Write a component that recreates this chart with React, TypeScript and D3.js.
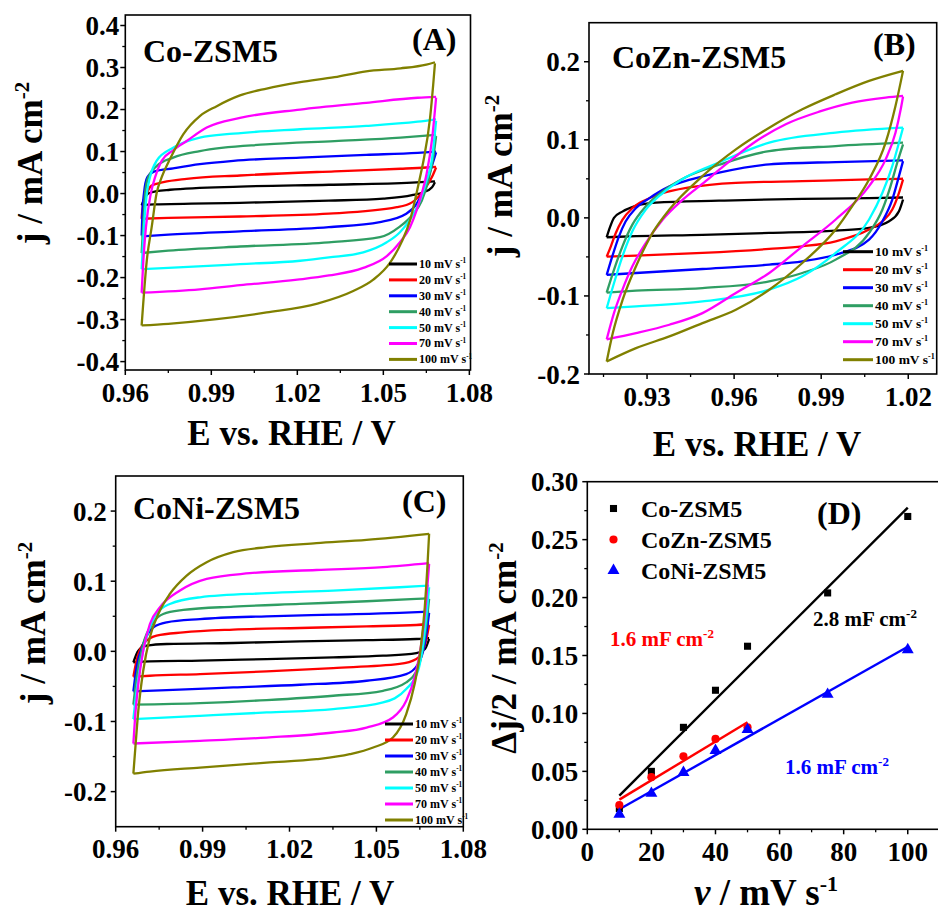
import React from 'react';
import * as d3 from 'd3';

const FONT = "'Liberation Serif', 'Times New Roman', Times, serif";

const scanRates = ['10', '20', '30', '40', '50', '70', '100'];
const cvColors = ['#000000', '#ff0000', '#0000ff', '#2f9e63', '#00ffff', '#ff00ff', '#808000'];

// ---------- Panel A : Co-ZSM5  [E / V, j / mA cm-2]  (anodic = upper, cathodic = lower) ----------
const coUpper: number[][][] = [
  [[0.9657, -0.028], [0.9669, -0.009], [0.968, 0.0], [0.9709, 0.0055], [0.9756, 0.009], [1.0, 0.0166], [1.031, 0.021], [1.06, 0.026], [1.068, 0.029]],
  [[0.9657, -0.06], [0.966, -0.035], [0.9675, 0.0], [0.9692, 0.019], [0.9733, 0.027], [0.9814, 0.035], [1.0, 0.043], [1.033, 0.053], [1.056, 0.059], [1.065, 0.062], [1.0684, 0.0635]],
  [[0.9657, -0.1], [0.966, -0.04], [0.9665, 0.0], [0.9677, 0.039], [0.97, 0.052], [0.9767, 0.06], [0.986, 0.07], [0.9977, 0.078], [1.021, 0.0855], [1.044, 0.092], [1.062, 0.097], [1.0684, 0.1]],
  [[0.9657, -0.1415], [0.9662, -0.08], [0.9669, 0.0], [0.968, 0.039], [0.971, 0.066], [0.9767, 0.0855], [0.986, 0.101], [1.009, 0.117], [1.033, 0.125], [1.056, 0.133], [1.066, 0.1385], [1.0684, 0.14]],
  [[0.9657, -0.18], [0.9665, -0.08], [0.9675, 0.0], [0.9686, 0.039], [0.9709, 0.078], [0.9767, 0.109], [0.986, 0.133], [0.9977, 0.1425], [1.021, 0.153], [1.044, 0.161], [1.062, 0.171], [1.0684, 0.1765]],
  [[0.9657, -0.236], [0.9663, -0.159], [0.9672, -0.08], [0.9689, 0.0], [0.9704, 0.039], [0.9727, 0.078], [0.9767, 0.103], [0.9814, 0.125], [0.9884, 0.157], [1.0, 0.18], [1.021, 0.2], [1.044, 0.216], [1.062, 0.228], [1.0684, 0.23]],
  [[0.9657, -0.314], [0.9675, -0.159], [0.9692, -0.08], [0.9709, 0.0], [0.9727, 0.039], [0.9758, 0.085], [0.9802, 0.141], [0.986, 0.1845], [0.9919, 0.208], [1.0, 0.2335], [1.0093, 0.25], [1.021, 0.265], [1.033, 0.277], [1.044, 0.291], [1.056, 0.298], [1.065, 0.307], [1.068, 0.3125]],
];
const coLower: number[][][] = [
  [[0.9657, -0.028], [0.97, -0.026], [1.0, -0.022], [1.031, -0.017], [1.05, -0.012], [1.06, -0.004], [1.064, 0.003], [1.067, 0.015], [1.068, 0.027]],
  [[0.9657, -0.06], [0.975, -0.058], [1.0, -0.0546], [1.031, -0.048], [1.0547, -0.0325], [1.06, -0.021], [1.064, 0.007], [1.067, 0.04], [1.0684, 0.062]],
  [[0.9657, -0.102], [0.975, -0.098], [1.0, -0.09], [1.031, -0.08], [1.0488, -0.068], [1.058, -0.048], [1.0616, -0.0245], [1.0645, 0.015], [1.0675, 0.078], [1.0684, 0.098]],
  [[0.9657, -0.1415], [0.975, -0.136], [1.0, -0.126], [1.031, -0.116], [1.0488, -0.104], [1.0555, -0.08], [1.0605, -0.048], [1.0634, -0.017], [1.0657, 0.031], [1.0675, 0.09], [1.0684, 0.137]],
  [[0.9657, -0.18], [0.975, -0.177], [1.0, -0.168], [1.021, -0.16], [1.031, -0.152], [1.043, -0.14], [1.0512, -0.116], [1.0558, -0.092], [1.0599, -0.056], [1.0628, -0.017], [1.0651, 0.031], [1.0669, 0.078], [1.0684, 0.173]],
  [[0.9657, -0.236], [0.986, -0.228], [1.0, -0.218], [1.02, -0.205], [1.031, -0.195], [1.043, -0.177], [1.0512, -0.149], [1.0558, -0.116], [1.0593, -0.08], [1.0616, -0.04], [1.0634, 0.0], [1.0651, 0.047], [1.067, 0.13], [1.0684, 0.228]],
  [[0.9657, -0.314], [0.975, -0.31], [0.9919, -0.299], [1.0093, -0.283], [1.027, -0.262], [1.0395, -0.232], [1.0465, -0.205], [1.0523, -0.165], [1.0564, -0.115], [1.0593, -0.064], [1.061, -0.017], [1.0628, 0.039], [1.064, 0.078], [1.0663, 0.18], [1.0674, 0.26], [1.068, 0.31]],
];

// ---------- Panel B : CoZn-ZSM5 ----------
const coZnUpper: number[][][] = [
  [[0.9161, -0.0248], [0.9169, -0.0155], [0.9186, 0.0], [0.9215, 0.008], [0.9261, 0.0153], [0.933, 0.0196], [0.9548, 0.022], [0.9835, 0.0244], [1.0065, 0.0252], [1.0182, 0.0261]],
  [[0.9161, -0.0496], [0.9175, -0.0368], [0.9192, -0.0197], [0.9215, -0.0026], [0.9249, 0.0123], [0.9295, 0.023], [0.9353, 0.0315], [0.9445, 0.039], [0.9606, 0.0449], [0.9835, 0.0471], [1.0065, 0.0492], [1.0182, 0.0501]],
  [[0.9161, -0.073], [0.918, -0.0496], [0.9203, -0.024], [0.9226, -0.0047], [0.9261, 0.0123], [0.9307, 0.025], [0.9376, 0.04], [0.9445, 0.0486], [0.9548, 0.058], [0.9721, 0.0685], [0.995, 0.0715], [1.0182, 0.0736]],
  [[0.9161, -0.0957], [0.9186, -0.0666], [0.9215, -0.0368], [0.9249, -0.009], [0.9295, 0.0145], [0.9353, 0.0337], [0.9433, 0.052], [0.9548, 0.068], [0.9721, 0.0856], [0.995, 0.092], [1.0182, 0.0963]],
  [[0.9161, -0.1157], [0.9186, -0.0837], [0.9215, -0.0496], [0.9249, -0.0176], [0.9295, 0.0102], [0.9353, 0.0315], [0.9433, 0.052], [0.9548, 0.071], [0.9721, 0.0963], [0.995, 0.1091], [1.0182, 0.1155]],
  [[0.9161, -0.1555], [0.9186, -0.122], [0.9215, -0.0922], [0.9249, -0.0624], [0.9295, -0.0325], [0.9353, -0.0026], [0.9422, 0.023], [0.9502, 0.047], [0.955, 0.062], [0.9663, 0.095], [0.9778, 0.12], [0.9893, 0.136], [1.0007, 0.1476], [1.0122, 0.154], [1.0182, 0.1562]],
  [[0.9161, -0.184], [0.9182, -0.1476], [0.9216, -0.1048], [0.9262, -0.062], [0.9319, -0.0193], [0.9377, 0.0107], [0.9491, 0.0535], [0.9606, 0.0877], [0.9721, 0.1155], [0.9835, 0.1391], [0.995, 0.1583], [1.0065, 0.1754], [1.0182, 0.1883]],
];
const coZnLower: number[][][] = [
  [[0.9161, -0.0248], [0.9262, -0.0235], [0.9491, -0.0218], [0.9721, -0.0193], [0.995, -0.0163], [1.0065, -0.0128], [1.0134, -0.0043], [1.0168, 0.0086], [1.0182, 0.0235]],
  [[0.9161, -0.0496], [0.9262, -0.0484], [0.9491, -0.0449], [0.9721, -0.0398], [0.9835, -0.0364], [0.995, -0.03], [1.0065, -0.015], [1.0111, -0.0043], [1.0145, 0.0107], [1.0168, 0.0321], [1.0182, 0.0492]],
  [[0.9161, -0.073], [0.9262, -0.0706], [0.9491, -0.0655], [0.9721, -0.0599], [0.9835, -0.0556], [0.995, -0.0471], [1.0065, -0.0278], [1.0111, -0.0043], [1.0145, 0.0235], [1.0168, 0.0535], [1.0182, 0.0727]],
  [[0.9161, -0.0957], [0.9262, -0.0933], [0.9491, -0.0899], [0.9721, -0.0813], [0.9835, -0.0706], [0.995, -0.0535], [1.0065, -0.0193], [1.0111, 0.0107], [1.0139, 0.0407], [1.0162, 0.0706], [1.0182, 0.0941]],
  [[0.9161, -0.1157], [0.9262, -0.1134], [0.9491, -0.107], [0.9721, -0.092], [0.9835, -0.0749], [0.995, -0.0449], [1.0065, -0.0021], [1.0111, 0.0321], [1.0145, 0.0663], [1.0168, 0.0963], [1.0182, 0.1155]],
  [[0.9161, -0.1555], [0.9262, -0.1476], [0.9377, -0.1369], [0.9491, -0.122], [0.9606, -0.0963], [0.9721, -0.0706], [0.9835, -0.0364], [0.995, -0.0021], [1.0065, 0.0407], [1.0122, 0.0749], [1.0156, 0.1091], [1.0174, 0.1391], [1.0182, 0.1553]],
  [[0.9161, -0.184], [0.9262, -0.1669], [0.9377, -0.1519], [0.9491, -0.1348], [0.9606, -0.1177], [0.9721, -0.092], [0.9835, -0.0578], [0.995, -0.015], [1.0007, 0.015], [1.0065, 0.0492], [1.0122, 0.0963], [1.0156, 0.1433], [1.0182, 0.1883]],
];

// ---------- Panel C : CoNi-ZSM5 ----------
const coNiUpper: number[][][] = [
  [[0.9661, -0.0157], [0.9678, 0.001], [0.9707, 0.008], [0.9776, 0.0105], [1.0006, 0.0119], [1.0236, 0.0143], [1.0466, 0.016], [1.0638, 0.0176], [1.0682, 0.019]],
  [[0.9661, -0.036], [0.9672, -0.013], [0.9695, 0.0105], [0.9741, 0.0224], [0.9833, 0.027], [1.0006, 0.031], [1.0236, 0.0333], [1.0466, 0.0357], [1.0638, 0.0376], [1.0682, 0.039]],
  [[0.9661, -0.057], [0.9672, -0.023], [0.9695, 0.0105], [0.973, 0.0343], [0.9776, 0.0414], [0.9891, 0.046], [1.0121, 0.05], [1.0351, 0.0524], [1.058, 0.0548], [1.0682, 0.0567]],
  [[0.9661, -0.076], [0.9672, -0.037], [0.9695, 0.0105], [0.973, 0.0414], [0.9764, 0.0533], [0.9833, 0.059], [1.0006, 0.0638], [1.0236, 0.0676], [1.0466, 0.0714], [1.0638, 0.0748], [1.0682, 0.0757]],
  [[0.9661, -0.0967], [0.9672, -0.056], [0.969, -0.0086], [0.9713, 0.0295], [0.9741, 0.0533], [0.9787, 0.0676], [0.9891, 0.0771], [1.0121, 0.0829], [1.0351, 0.0867], [1.058, 0.0914], [1.0682, 0.0938]],
  [[0.9661, -0.1314], [0.9667, -0.094], [0.9678, -0.0467], [0.9695, 0.001], [0.9718, 0.039], [0.9753, 0.0629], [0.9822, 0.0867], [0.9914, 0.1033], [1.0063, 0.1114], [1.0293, 0.116], [1.0523, 0.12], [1.0682, 0.1257]],
  [[0.9661, -0.1743], [0.9667, -0.142], [0.9678, -0.0848], [0.9695, -0.0276], [0.9718, 0.02], [0.9747, 0.0533], [0.9787, 0.0819], [0.9845, 0.108], [0.9914, 0.1271], [1.0006, 0.1414], [1.0121, 0.1486], [1.0293, 0.1543], [1.0466, 0.159], [1.0682, 0.1676]],
];
const coNiLower: number[][][] = [
  [[0.9661, -0.0157], [0.9718, -0.0143], [0.9891, -0.0133], [1.0121, -0.011], [1.0351, -0.0086], [1.0523, -0.0062], [1.0638, -0.0024], [1.0667, 0.003], [1.0682, 0.0176]],
  [[0.9661, -0.036], [0.9718, -0.0348], [0.9891, -0.0324], [1.0121, -0.0286], [1.0351, -0.0238], [1.058, -0.018], [1.0638, -0.011], [1.0667, 0.008], [1.0682, 0.0376]],
  [[0.9661, -0.057], [0.9776, -0.0552], [1.0006, -0.0514], [1.0236, -0.0476], [1.0466, -0.0419], [1.0603, -0.0324], [1.0644, -0.018], [1.0667, 0.0105], [1.0682, 0.055]],
  [[0.9661, -0.076], [0.9891, -0.0738], [1.0121, -0.0695], [1.0351, -0.0633], [1.0523, -0.0562], [1.0603, -0.0443], [1.0644, -0.0229], [1.0667, 0.02], [1.0682, 0.0748]],
  [[0.9661, -0.0967], [0.9891, -0.0919], [1.0121, -0.0871], [1.0351, -0.0824], [1.0523, -0.0729], [1.0603, -0.0538], [1.0644, -0.0276], [1.0667, 0.0295], [1.0682, 0.0914]],
  [[0.9661, -0.1314], [0.9891, -0.1276], [1.0121, -0.1229], [1.0351, -0.1157], [1.0466, -0.1086], [1.0557, -0.0943], [1.0603, -0.0705], [1.0632, -0.0371], [1.0655, 0.0105], [1.0672, 0.0724], [1.0682, 0.1248]],
  [[0.9661, -0.1743], [0.9718, -0.1714], [0.9891, -0.1657], [1.0121, -0.1586], [1.0293, -0.1538], [1.0408, -0.1467], [1.0489, -0.1371], [1.0557, -0.1229], [1.0603, -0.0895], [1.0632, -0.0467], [1.0652, 0.001], [1.0667, 0.0629], [1.0676, 0.12], [1.0682, 0.1676]],
];

// ---------- Panel D : double-layer capacitance ----------
const dRates = [10, 20, 30, 40, 50, 75, 100];
const dCo = [0.018, 0.05, 0.088, 0.12, 0.158, 0.204, 0.27];
const dZnRates = [10, 20, 30, 40, 50];
const dCoZn = [0.021, 0.045, 0.063, 0.078, 0.088];
const dCoNi = [0.013, 0.031, 0.049, 0.068, 0.086, 0.1165, 0.155];

// ---------- ticks ----------
const xTicksAC = [0.96, 0.99, 1.02, 1.05, 1.08];
const xMinorAC = [0.975, 1.005, 1.035, 1.065];
const xTicksB = [0.93, 0.96, 0.99, 1.02];
const xMinorB = [0.915, 0.945, 0.975, 1.005];
const yTicksA = [-0.4, -0.3, -0.2, -0.1, 0, 0.1, 0.2, 0.3, 0.4];
const yMinorA = [-0.35, -0.25, -0.15, -0.05, 0.05, 0.15, 0.25, 0.35];
const yTicksBC = [-0.2, -0.1, 0, 0.1, 0.2];
const yMinorBC = [-0.15, -0.05, 0.05, 0.15];
const xTicksD = [0, 20, 40, 60, 80, 100];
const xMinorD = [10, 30, 50, 70, 90];
const yTicksD = [0, 0.05, 0.1, 0.15, 0.2, 0.25, 0.3];
const yMinorD = [0.025, 0.075, 0.125, 0.175, 0.225, 0.275];

type Cfg = {
  left: number; right: number; top: number; bottom: number;
  xDomain: number[]; yDomain: number[];
  xTicks: number[]; xMinor: number[]; xDigits: number;
  yTicks: number[]; yMinor: number[]; yDigits: number; yLabelGap: number;
};

const fmt = (v: number, d: number) => (Math.abs(v) < 1e-9 ? 0 : v).toFixed(d);

function Axes({ cfg, x, y }: { cfg: Cfg; x: any; y: any }) {
  const { left, right, top, bottom } = cfg;
  return (
    <g fontFamily={FONT} fontWeight="bold" fontSize={27} fill="#000">
      <rect x={left} y={top} width={right - left} height={bottom - top} fill="none" stroke="#000" strokeWidth={1.6} />
      {cfg.xTicks.map((t) => (
        <g key={'xt' + t}>
          <line x1={x(t)} x2={x(t)} y1={bottom} y2={bottom + 5} stroke="#000" strokeWidth={1.5} />
          <text x={x(t)} y={bottom + 31.5} textAnchor="middle">{fmt(t, cfg.xDigits)}</text>
        </g>
      ))}
      {cfg.xMinor.map((t) => (
        <line key={'xm' + t} x1={x(t)} x2={x(t)} y1={bottom} y2={bottom + 3} stroke="#000" strokeWidth={1.3} />
      ))}
      {cfg.yTicks.map((t) => (
        <g key={'yt' + t}>
          <line x1={left - 5} x2={left} y1={y(t)} y2={y(t)} stroke="#000" strokeWidth={1.5} />
          <text x={left - cfg.yLabelGap} y={y(t) + 9.5} textAnchor="end">{fmt(t, cfg.yDigits)}</text>
        </g>
      ))}
      {cfg.yMinor.map((t) => (
        <line key={'ym' + t} x1={left - 3} x2={left} y1={y(t)} y2={y(t)} stroke="#000" strokeWidth={1.3} />
      ))}
    </g>
  );
}

function CVPanel({ cfg, upper, lower, name, letter, nameX, nameY, letterX, letterY, legend, xTitle, yTitle }: any) {
  const x = d3.scaleLinear().domain(cfg.xDomain).range([cfg.left, cfg.right]);
  const y = d3.scaleLinear().domain(cfg.yDomain).range([cfg.bottom, cfg.top]);
  const line = d3.line<number[]>().x((d) => x(d[0])).y((d) => y(d[1])).curve(d3.curveMonotoneX);
  return (
    <g>
      {upper.map((u: number[][], i: number) => (
        <g key={i}>
          <path d={line(u) || ''} fill="none" stroke={cvColors[i]} strokeWidth={2.3} strokeLinejoin="round" />
          <path d={line(lower[i]) || ''} fill="none" stroke={cvColors[i]} strokeWidth={2.3} strokeLinejoin="round" />
        </g>
      ))}
      <Axes cfg={cfg} x={x} y={y} />
      <text x={nameX} y={nameY} fontFamily={FONT} fontWeight="bold" fontSize={32}>{name}</text>
      <text x={letterX} y={letterY} fontFamily={FONT} fontWeight="bold" fontSize={32}>{letter}</text>
      <g fontFamily={FONT} fontWeight="bold" fontSize={legend.size}>
        {scanRates.map((r, i) => {
          const yy = legend.y0 + legend.dy * i;
          return (
            <g key={r}>
              <line x1={legend.x0} x2={legend.x1} y1={yy} y2={yy} stroke={cvColors[i]} strokeWidth={3} />
              <text x={legend.x1 + 2} y={yy + legend.size * 0.33}>
                {r} mV s<tspan dy={-legend.size * 0.4} fontSize={legend.size * 0.6}>-1</tspan>
              </text>
            </g>
          );
        })}
      </g>
      <text x={xTitle[0]} y={xTitle[1]} textAnchor="middle" fontFamily={FONT} fontWeight="bold" fontSize={35}>E vs. RHE / V</text>
      <text transform={`translate(${yTitle[0]},${yTitle[1]}) rotate(-90)`} textAnchor="middle" fontFamily={FONT} fontWeight="bold" fontSize={35}>
        j / mA cm<tspan dy={-13} fontSize={21}>-2</tspan>
      </text>
    </g>
  );
}

function fit(xs: number[], ys: number[]) {
  const mx = d3.mean(xs) as number;
  const my = d3.mean(ys) as number;
  let sxy = 0, sxx = 0;
  xs.forEach((v, i) => { sxy += (v - mx) * (ys[i] - my); sxx += (v - mx) * (v - mx); });
  const b = sxy / sxx;
  return (v: number) => my + b * (v - mx);
}

function PanelD() {
  const cfg: Cfg = {
    left: 587.3, right: 939.8, top: 481.7, bottom: 829.3,
    xDomain: [0, 110], yDomain: [0, 0.3],
    xTicks: xTicksD, xMinor: xMinorD, xDigits: 0,
    yTicks: yTicksD, yMinor: yMinorD, yDigits: 2, yLabelGap: 9,
  };
  const x = d3.scaleLinear().domain(cfg.xDomain).range([cfg.left, cfg.right]);
  const y = d3.scaleLinear().domain(cfg.yDomain).range([cfg.bottom, cfg.top]);
  const series = [
    { xs: dRates, ys: dCo, color: '#000000', sym: d3.symbolSquare, size: 50, name: 'Co-ZSM5' },
    { xs: dZnRates, ys: dCoZn, color: '#ff0000', sym: d3.symbolCircle, size: 52, name: 'CoZn-ZSM5' },
    { xs: dRates, ys: dCoNi, color: '#0000ff', sym: d3.symbolTriangle, size: 62, name: 'CoNi-ZSM5' },
  ];
  return (
    <g>
      {series.map((s) => {
        const f = fit(s.xs, s.ys);
        const x0 = d3.min(s.xs) as number, x1 = d3.max(s.xs) as number;
        return <line key={s.name + 'fit'} x1={x(x0)} x2={x(x1)} y1={y(f(x0))} y2={y(f(x1))} stroke={s.color} strokeWidth={2.4} />;
      })}
      {series.map((s) =>
        s.xs.map((v, i) => (
          <path key={s.name + i} transform={`translate(${x(v)},${y(s.ys[i])})`} d={d3.symbol().type(s.sym).size(s.size)() || ''} fill={s.color} />
        ))
      )}
      <Axes cfg={cfg} x={x} y={y} />
      <g fontFamily={FONT} fontWeight="bold" fontSize={24}>
        {series.map((s, i) => (
          <g key={s.name + 'leg'}>
            <path transform={`translate(613.5,${508.5 + 31 * i})`} d={d3.symbol().type(s.sym).size(s.size)() || ''} fill={s.color} />
            <text x={641} y={517 + 31 * i}>{s.name}</text>
          </g>
        ))}
      </g>
      <text x={817} y={524} fontFamily={FONT} fontWeight="bold" fontSize={32}>(D)</text>
      <g fontFamily={FONT} fontWeight="bold" fontSize={21}>
        <text x={813} y={626} fill="#000">2.8 mF cm<tspan dy={-8} fontSize={13}>-2</tspan></text>
        <text x={610} y={646} fill="#ff0000">1.6 mF cm<tspan dy={-8} fontSize={13}>-2</tspan></text>
        <text x={785} y={774} fill="#0000ff">1.6 mF cm<tspan dy={-8} fontSize={13}>-2</tspan></text>
      </g>
      <text x={766} y={905} textAnchor="middle" fontFamily={FONT} fontWeight="bold" fontSize={37}>
        <tspan fontStyle="italic">v</tspan> / mV s<tspan dy={-14} fontSize={22}>-1</tspan>
      </text>
      <text transform="translate(516,648) rotate(-90)" textAnchor="middle" fontFamily={FONT} fontWeight="bold" fontSize={35}>
        Δj/2 / mA cm<tspan dy={-13} fontSize={21}>-2</tspan>
      </text>
    </g>
  );
}

export default function App() {
  const cfgA: Cfg = {
    left: 125.3, right: 470.5, top: 15, bottom: 370,
    xDomain: [0.96, 1.0804], yDomain: [-0.42, 0.425],
    xTicks: xTicksAC, xMinor: xMinorAC, xDigits: 2,
    yTicks: yTicksA, yMinor: yMinorA, yDigits: 1, yLabelGap: 6,
  };
  const cfgB: Cfg = {
    left: 589, right: 936.7, top: 22.7, bottom: 374,
    xDomain: [0.91, 1.0298], yDomain: [-0.2, 0.25],
    xTicks: xTicksB, xMinor: xMinorB, xDigits: 2,
    yTicks: yTicksBC, yMinor: yMinorBC, yDigits: 1, yLabelGap: 9,
  };
  const cfgC: Cfg = {
    left: 115.7, right: 463.3, top: 476, bottom: 826.7,
    xDomain: [0.96, 1.08], yDomain: [-0.25, 0.25],
    xTicks: xTicksAC, xMinor: xMinorAC, xDigits: 2,
    yTicks: yTicksBC, yMinor: yMinorBC, yDigits: 1, yLabelGap: 9,
  };
  return (
    <svg width={938} height={914} viewBox="0 0 938 914" style={{ position: 'absolute', left: 0, top: 0, background: '#fff' }}>
      <rect width={938} height={914} fill="#fff" />
      <CVPanel cfg={cfgA} upper={coUpper} lower={coLower} name="Co-ZSM5" letter="(A)" nameX={143} nameY={62} letterX={412} letterY={50}
        legend={{ x0: 389, x1: 417, y0: 264, dy: 15.9, size: 12 }} xTitle={[291.5, 445]} yTitle={[42, 163]} />
      <CVPanel cfg={cfgB} upper={coZnUpper} lower={coZnLower} name="CoZn-ZSM5" letter="(B)" nameX={612} nameY={68} letterX={873} letterY={55}
        legend={{ x0: 843, x1: 873, y0: 251.7, dy: 18, size: 13.5 }} xTitle={[757, 456]} yTitle={[512, 176]} />
      <CVPanel cfg={cfgC} upper={coNiUpper} lower={coNiLower} name="CoNi-ZSM5" letter="(C)" nameX={133} nameY={519} letterX={402} letterY={512}
        legend={{ x0: 385, x1: 413, y0: 724, dy: 16, size: 12 }} xTitle={[290, 905]} yTitle={[45, 623]} />
      <PanelD />
    </svg>
  );
}
